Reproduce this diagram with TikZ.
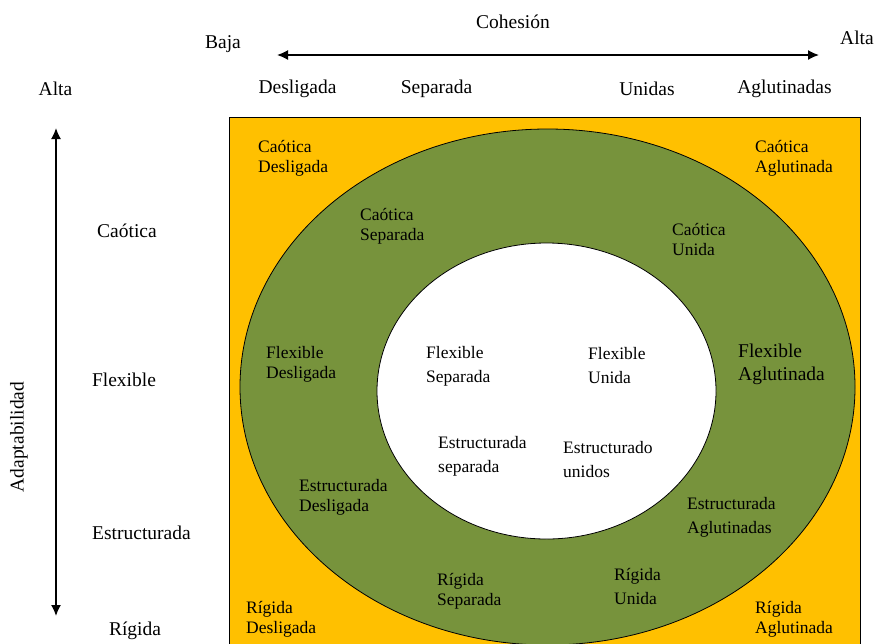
\documentclass[tikz,border=0pt]{standalone}
\usepackage{fontspec}
\setmainfont{Liberation Serif}
\usetikzlibrary{shapes, arrows, arrows.meta}
\definecolor{amarillo}{HTML}{FFC000}
\definecolor{verde}{HTML}{77933C}
\tikzstyle{eje} = [font=\fontsize{19.5}{22}\selectfont, inner sep=0pt]
\tikzstyle{zona} = [font=\fontsize{17.5}{20}\selectfont, align=left, anchor=west, inner sep=0pt]
\tikzstyle{zonaalta} = [font=\fontsize{17.5}{24}\selectfont, align=left, anchor=west, inner sep=0pt]
\tikzstyle{zonagrande} = [font=\fontsize{19.5}{23}\selectfont, align=left, anchor=west, inner sep=0pt]
\tikzstyle{flecha} = [<->, >={Latex[length=11pt,width=10pt]}, line width=1.6pt]

\begin{document}
\begin{tikzpicture}[x=1pt,y=-1pt]
\useasboundingbox (0,0) rectangle (877,643);

% fondo y anillos
\fill[amarillo, draw=black, line width=0.8pt] (229.5,117.5) rectangle (860,650);
\draw[fill=verde, line width=0.8pt] (547.5,387) ellipse [x radius=307.5, y radius=258];
\draw[fill=white, line width=0.8pt] (546.5,391) ellipse [x radius=169.5, y radius=148];

% ejes
\coordinate (cohizq) at (277,55);
\coordinate (cohder) at (819,55);
\coordinate (adaarr) at (56,128);
\coordinate (adaab) at (56,616);
\draw [flecha] (cohizq) -- (cohder);
\draw [flecha] (adaarr) -- (adaab);

\node [eje] (cohesion) at (513,22) {Cohesión};
\node [eje] (baja) at (223,44) {Baja};
\node [eje] (altader) at (857,38) {Alta};
\node [eje] (altaizq) at (55.5,89) {Alta};
\node [eje] (desligada) at (297.5,89) {Desligada};
\node [eje] (separada) at (436.5,89) {Separada};
\node [eje] (unidas) at (647,89) {Unidas};
\node [eje] (aglutinadas) at (784.5,89) {Aglutinadas};

\node [eje, rotate=90] (adaptabilidad) at (19,437) {Adaptabilidad};
\node [eje] (caotica) at (127,231) {Caótica};
\node [eje] (flexible) at (124,380) {Flexible};
\node [eje] (estructurada) at (141.5,533) {Estructurada};
\node [eje] (rigida) at (135,631) {Rígida};

% esquinas
\node [zona] (cd) at (258,158) {Caótica\\Desligada};
\node [zona] (ca) at (755,158) {Caótica\\Aglutinada};
\node [zona] (rd) at (246,619.5) {Rígida\\Desligada};
\node [zona] (ra) at (755,619) {Rígida\\Aglutinada};

% anillo verde
\node [zona] (cs) at (360,226) {Caótica\\Separada};
\node [zona] (cu) at (672,239.5) {Caótica\\Unida};
\node [zona] (fd) at (266,364) {Flexible\\Desligada};
\node [zonagrande] (fa) at (738,364.5) {Flexible\\Aglutinada};
\node [zona] (ed) at (299,497) {Estructurada\\Desligada};
\node [zonaalta] (ea) at (687,517) {Estructurada\\Aglutinadas};
\node [zona] (rs) at (437,591.5) {Rígida\\Separada};
\node [zonaalta] (ru) at (614,586.5) {Rígida\\Unida};

% centro
\node [zonaalta] (fs) at (426,366) {Flexible\\Separada};
\node [zonaalta] (fu) at (588,366) {Flexible\\Unida};
\node [zonaalta] (es) at (438,456) {Estructurada\\separada};
\node [zonaalta] (eu) at (563,459.5) {Estructurado\\unidos};
\end{tikzpicture}
\end{document}
